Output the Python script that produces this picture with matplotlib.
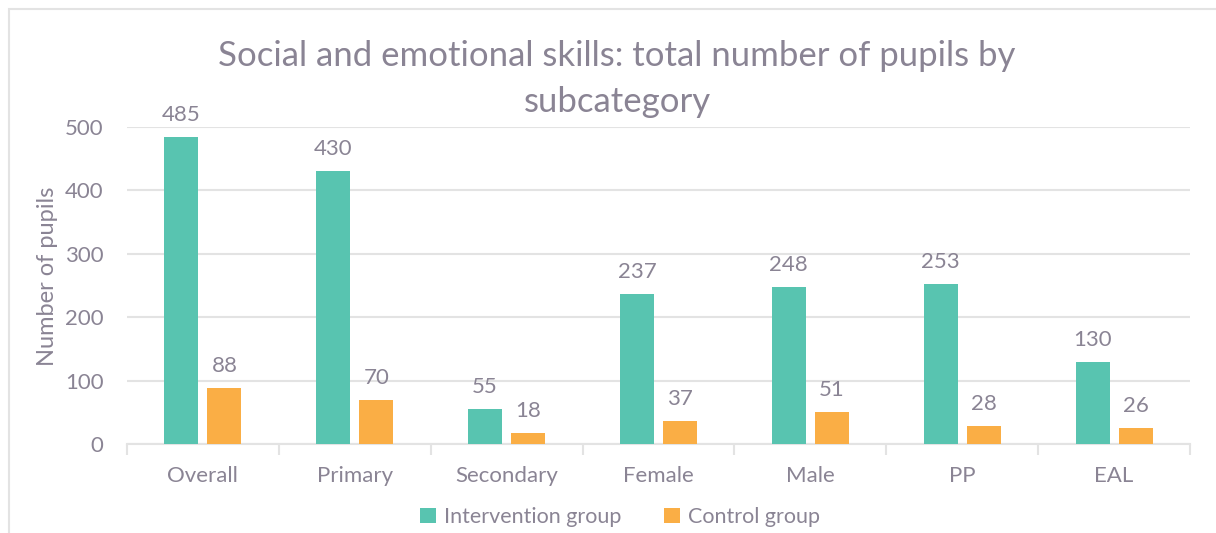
import matplotlib
matplotlib.use("Agg")
import matplotlib.pyplot as plt
import numpy as np
from matplotlib.patches import Rectangle

categories = ["Overall", "Primary", "Secondary", "Female", "Male", "PP", "EAL"]
intervention = [485, 430, 55, 237, 248, 253, 130]
control = [88, 70, 18, 37, 51, 28, 26]
series_names = ["Intervention group", "Control group"]
yticks = [0, 100, 200, 300, 400, 500]
title = "Social and emotional skills: total number of pupils by\nsubcategory"
ylabel = "Number of pupils"

TEAL = "#58C4B0"
ORANGE = "#FAAE45"
TXT = "#8A8494"
GRID = "#E3E3E3"

plt.rcParams['font.family'] = ['Lato', 'DejaVu Sans']

W, H = 1216, 533
fig = plt.figure(figsize=(W / 100, H / 100), dpi=100)
ax = fig.add_axes([127 / W, 1 - 444 / H, (1190 - 127) / W, (444 - 127) / H])

x = np.arange(len(categories))
bw = 0.224
off = 0.1415
b1 = ax.bar(x - off, intervention, bw, color=TEAL, label=series_names[0], zorder=3)
b2 = ax.bar(x + off, control, bw, color=ORANGE, label=series_names[1], zorder=3)

for bars, vals in ((b1, intervention), (b2, control)):
    for r, v in zip(bars, vals):
        ax.annotate(str(v), (r.get_x() + r.get_width() / 2, v), xytext=(0, 12),
                    textcoords="offset pixels", ha="center", va="bottom",
                    fontsize=16, color=TXT)

ax.set_xlim(-0.5, len(categories) - 0.5)
ax.set_ylim(0, 500)
ax.set_yticks(yticks)
ax.set_yticklabels([str(t) for t in yticks], fontsize=16, color=TXT)
ax.set_xticks(x)
ax.set_xticklabels(categories, fontsize=16, color=TXT)
ax.tick_params(axis="y", length=0, pad=17)
ax.tick_params(axis="x", length=0, pad=16)
ax.set_xticks(np.arange(len(categories) + 1) - 0.5, minor=True)
ax.tick_params(axis="x", which="minor", length=8, color=GRID, width=1.5)
ax.grid(axis="y", color=GRID, linewidth=1.5, zorder=0)
for s in ("top", "right", "left"):
    ax.spines[s].set_visible(False)
ax.spines["bottom"].set_color(GRID)
ax.spines["bottom"].set_linewidth(1.5)

ax.set_ylabel(ylabel, fontsize=17, color=TXT)
ax.yaxis.set_label_coords(58 / W, 1 - 276 / H, transform=fig.transFigure)

fig.text(617 / W, 1 - 79 / H, title, ha="center", va="center", fontsize=25,
         color=TXT, linespacing=1.5)

fig.legend(handles=[b1, b2], labels=series_names, loc="center", bbox_to_anchor=(620 / W, 1 - 517 / H),
           ncol=2, frameon=False, fontsize=15.5, labelcolor=TXT, handlelength=0.75,
           handleheight=0.75, handletextpad=0.35, columnspacing=2.0)

fig.patches.append(Rectangle((9 / W, -0.1), 1.2, 1 - 9 / H + 0.1, transform=fig.transFigure,
                             fill=False, edgecolor=GRID, linewidth=1.5))

fig.savefig("out.png", dpi=100, facecolor="white")
